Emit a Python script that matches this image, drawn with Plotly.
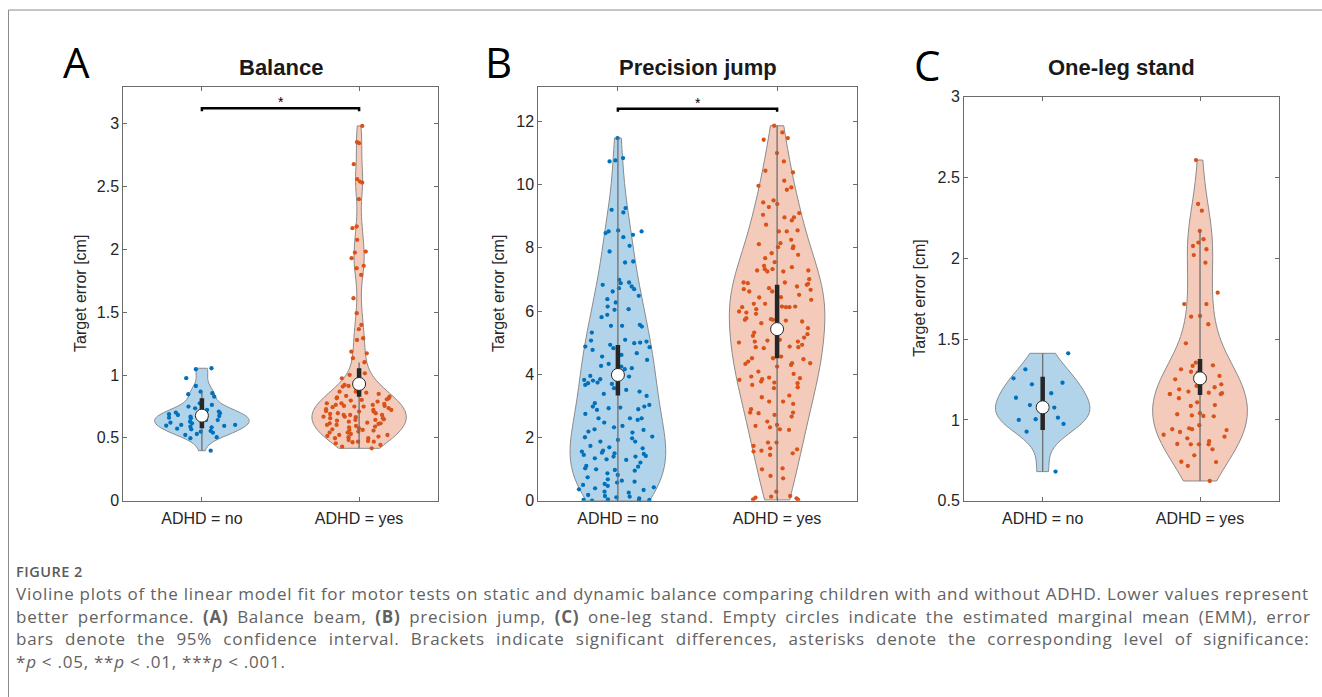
import plotly.graph_objects as go

W, H = 1322, 697

# ---------------- data ----------------
groups = ["ADHD = no", "ADHD = yes"]
panel_titles = ["Balance", "Precision jump", "One-leg stand"]
panel_letters = ["A", "B", "C"]
y_title = "Target error [cm]"

balance_no = [1.054, 1.046, 0.975, 0.913, 0.868, 0.855, 0.847, 0.828, 0.775, 0.762, 0.749, 0.735,
              0.722, 0.709, 0.701, 0.696, 0.688, 0.682, 0.674, 0.674, 0.669, 0.669, 0.661, 0.656,
              0.642, 0.642, 0.637, 0.629, 0.621, 0.616, 0.603, 0.603, 0.597, 0.595, 0.589, 0.584,
              0.573, 0.568, 0.555, 0.549, 0.541, 0.531, 0.523, 0.505, 0.497, 0.398]
balance_yes = [2.983, 2.854, 2.845, 2.678, 2.559, 2.540, 2.532, 2.400, 2.182, 2.169, 2.076, 1.983,
               1.975, 1.930, 1.869, 1.850, 1.797, 1.611, 1.492, 1.399, 1.365, 1.293, 1.279, 1.186,
               1.173, 1.134, 1.102,
               1.014, 1.001, 0.974, 0.921, 0.913, 0.908, 0.895, 0.868, 0.860, 0.868, 0.850, 0.834,
               0.829, 0.823, 0.815, 0.815, 0.807, 0.802, 0.797, 0.789, 0.775, 0.775, 0.770, 0.762,
               0.762, 0.754, 0.754, 0.749, 0.749, 0.744, 0.736, 0.728, 0.722, 0.722, 0.714, 0.709,
               0.709, 0.696, 0.696, 0.690, 0.682, 0.682, 0.682, 0.669, 0.669, 0.664, 0.656, 0.656,
               0.648, 0.643, 0.643, 0.637, 0.629, 0.621, 0.616, 0.616, 0.611, 0.603, 0.603, 0.595,
               0.590, 0.584, 0.576, 0.568, 0.563, 0.563, 0.558, 0.550, 0.542, 0.542, 0.531, 0.523,
               0.523, 0.515, 0.510, 0.505, 0.497, 0.497, 0.483, 0.475, 0.470, 0.470, 0.465, 0.457,
               0.444, 0.430, 0.417]

jump_no = [11.475, 10.842, 10.768, 10.736, 9.258, 9.205, 9.121, 8.551, 8.519, 8.519, 8.467, 8.414,
           8.340, 8.065, 7.886, 7.569, 7.538, 6.989, 6.904, 6.883, 6.831, 6.778, 6.725, 6.693,
           6.619, 6.482, 6.377, 6.271, 6.144, 6.060, 6.039, 5.880, 5.807, 5.564, 5.532, 5.532,
           5.511, 5.321, 5.089, 5.068, 5.036, 5.004, 4.983, 4.931, 4.878, 4.857, 4.825, 4.772,
           4.667, 4.614, 4.561, 4.456, 4.329, 4.266, 4.245, 4.192, 4.160, 3.949, 3.928, 3.843,
           3.822, 3.801, 3.738, 3.717, 3.696, 3.664, 3.559, 3.506, 3.453, 3.379, 3.316, 3.083,
           3.031, 2.978, 2.978, 2.946, 2.925, 2.894, 2.872, 2.746, 2.608, 2.608, 2.608, 2.556,
           2.471, 2.366, 2.323, 2.260, 2.239, 2.186, 2.155, 2.028, 2.007, 1.975, 1.922, 1.870,
           1.870, 1.732, 1.690, 1.658, 1.584, 1.553, 1.521, 1.500, 1.479, 1.447, 1.415, 1.395,
           1.395, 1.342, 1.310, 1.289, 1.205, 1.099, 1.078, 1.025, 0.994, 0.972, 0.951, 0.867,
           0.814, 0.740, 0.677, 0.635, 0.603, 0.572, 0.529, 0.498, 0.466, 0.424, 0.392, 0.360,
           0.339, 0.286, 0.255, 0.181, 0.149, 0.128, 0.107, 0.076, 0.044, 0.023, 0.023, 0.002,
           0.000]
jump_yes = [11.865, 11.654, 11.475, 11.422, 11.000, 10.736, 10.440, 10.388, 10.124, 9.965, 9.913,
            9.839, 9.501, 9.438, 9.385, 9.290, 9.100, 9.047, 8.963, 8.963, 8.868, 8.731, 8.551,
            8.519, 8.519, 8.255, 8.150, 8.118, 8.044, 8.023, 7.992, 7.833, 7.781, 7.675, 7.548,
            7.432, 7.390, 7.327, 7.327, 7.284, 7.284, 7.253, 7.253, 7.010, 6.904, 6.904, 6.883,
            6.862, 6.831, 6.778, 6.725, 6.693, 6.672, 6.619, 6.619, 6.514, 6.440, 6.430, 6.355,
            6.229, 6.229, 6.144, 6.144, 6.123, 6.123, 6.123, 6.060, 5.986, 5.954, 5.912, 5.775,
            5.743, 5.722, 5.722, 5.701, 5.670, 5.617, 5.458, 5.321, 5.268, 5.216, 5.163, 5.089,
            5.068, 5.036, 5.036, 5.004, 4.931, 4.878, 4.857, 4.857, 4.825, 4.561, 4.508, 4.508,
            4.477, 4.403, 4.350, 4.350, 4.329, 4.297, 4.245, 4.086, 4.012, 3.928, 3.896, 3.875,
            3.843, 3.822, 3.770, 3.738, 3.717, 3.664, 3.590, 3.559, 3.326, 3.274, 3.136, 3.136,
            3.062, 2.894, 2.788, 2.788, 2.767, 2.714, 2.661, 2.503, 2.397, 2.366, 2.323, 2.260,
            2.239, 1.838, 1.838, 1.732, 1.658, 1.627, 1.584, 1.553, 1.500, 1.447, 1.025, 0.994,
            0.783, 0.709, 0.286, 0.149, 0.128, 0.097, 0.076, 0.044, 0.023]

oneleg_no = [1.412, 1.313, 1.257, 1.230, 1.220, 1.165, 1.137, 1.092, 1.066, 1.076, 1.004, 1.014,
             1.000, 0.975, 0.927, 0.680]
oneleg_yes = [2.608, 2.336, 2.295, 2.169, 2.118, 2.097, 2.076, 2.056, 2.020, 1.973, 1.787, 1.717,
              1.717, 1.643, 1.639, 1.592, 1.474, 1.354, 1.338, 1.334, 1.313, 1.298, 1.292, 1.272,
              1.251, 1.220, 1.210, 1.202, 1.189, 1.175, 1.168, 1.165, 1.160, 1.160, 1.160, 1.134,
              1.109, 1.092, 1.086, 1.041, 1.035, 1.028, 1.024, 1.022, 0.967, 0.948, 0.942, 0.942,
              0.937, 0.925, 0.908, 0.896, 0.886, 0.868, 0.851, 0.849, 0.849, 0.849, 0.818, 0.781,
              0.741, 0.739, 0.715, 0.622]

# estimated marginal means and 95% CI, whisker lines
balance_emm = [0.677, 0.929]
balance_ci_low = [0.576, 0.828]
balance_ci_high = [0.815, 1.054]
balance_whisk_low = [0.398, 0.417]
balance_whisk_high = [0.868, 1.10]

jump_emm = [3.98, 5.43]
jump_ci_low = [3.33, 4.51]
jump_ci_high = [4.93, 6.83]
jump_whisk_low = [0.0, 0.023]
jump_whisk_high = [11.475, 11.865]

oneleg_emm = [1.078, 1.257]
oneleg_ci_low = [0.937, 1.154]
oneleg_ci_high = [1.267, 1.377]
oneleg_whisk_low = [0.680, 0.622]
oneleg_whisk_high = [1.412, 2.169]

# values above which a violin becomes a thin tail (points there hug the centre)
balance_tail = [None, 1.09]
jump_tail = [9.0, None]
oneleg_tail = [None, 1.9]

# significance brackets
bracket_y = [3.124, 12.40, None]
bracket_label = ["*", "*", ""]

# y axis settings per panel
y_ranges = [[0, 3.29], [0, 13.1], [0.5, 3.0]]
y_tick0 = [0, 0, 0.5]
y_dtick = [0.5, 2, 0.5]

caption_head = "FIGURE 2"
caption_lines = [
    "Violine plots of the linear model fit for motor tests on static and dynamic balance comparing children with and without ADHD. Lower values represent",
    "better performance. <b>(A)</b> Balance beam, <b>(B)</b> precision jump, <b>(C)</b> one-leg stand. Empty circles indicate the estimated marginal mean (EMM), error",
    "bars denote the 95% confidence interval. Brackets indicate significant differences, asterisks denote the corresponding level of significance:",
    "*<i>p</i> < .05, **<i>p</i> < .01, ***<i>p</i> < .001.",
]
caption_word_spacing = [0.0, 3.5, 6.0, 0.0]

# ---------------- styling / layout ----------------
BLUE = "#0072BD"
ORANGE = "#D95319"
BLUE_FILL = "rgba(0,114,189,0.30)"
ORANGE_FILL = "rgba(217,83,25,0.30)"
AXC = "#262626"
FONT = "Liberation Sans, Arial, sans-serif"

# axes boxes in pixel coordinates: x0, x1, ytop, ybottom
boxes = [(123.3, 437.7, 87.3, 500.7), (538.3, 856.7, 86.7, 500.7), (964.0, 1278.7, 96.7, 500.7)]
letter_pos = [(76.7, 61.7), (498.0, 61.7), (926.7, 64.5)]
ytitle_x = [80.0, 498.3, 920.0]


def px(x):
    return x / W


def py(y):
    return 1 - y / H


data_sets = [
    (balance_no, balance_yes, balance_emm, balance_ci_low, balance_ci_high, balance_whisk_low,
     balance_whisk_high, balance_tail),
    (jump_no, jump_yes, jump_emm, jump_ci_low, jump_ci_high, jump_whisk_low, jump_whisk_high, jump_tail),
    (oneleg_no, oneleg_yes, oneleg_emm, oneleg_ci_low, oneleg_ci_high, oneleg_whisk_low,
     oneleg_whisk_high, oneleg_tail),
]

fig = go.Figure()
annotations = []
layout_axes = {}


def point_layer(vals, pos, col, jit, xa, ya):
    return go.Violin(
        y=vals, x0=pos, xaxis=xa, yaxis=ya, width=0.6, scalemode="width", spanmode="hard",
        points="all", pointpos=0, jitter=jit,
        marker=dict(size=4.3, color=col, line=dict(width=0)),
        line=dict(width=0, color="rgba(0,0,0,0)"), fillcolor="rgba(0,0,0,0)",
        box_visible=False, meanline_visible=False, showlegend=False, hoveron="points",
    )


for i, (dno, dyes, emm, cil, cih, wl, wh, tails) in enumerate(data_sets):
    sfx = "" if i == 0 else str(i + 1)
    xa, ya = "x" + sfx, "y" + sfx
    for j, (vals, col, fill) in enumerate([(dno, BLUE, BLUE_FILL), (dyes, ORANGE, ORANGE_FILL)]):
        # violin body (density of all values)
        fig.add_trace(go.Violin(
            y=vals, x0=j + 1, name=groups[j], xaxis=xa, yaxis=ya,
            width=0.6, scalemode="width", spanmode="hard", points=False,
            line=dict(color="#8a8a8a", width=1), fillcolor=fill,
            box_visible=False, meanline_visible=False, showlegend=False, hoverinfo="skip",
        ))
        cut = tails[j]
        if cut is None:
            fig.add_trace(point_layer(vals, j + 1, col, 0.85, xa, ya))
        else:
            fig.add_trace(point_layer([v for v in vals if v < cut], j + 1, col, 0.85, xa, ya))
            fig.add_trace(point_layer([v for v in vals if v >= cut], j + 1, col, 0.22, xa, ya))
    # whisker lines
    for j in range(2):
        fig.add_trace(go.Scatter(x=[j + 1, j + 1], y=[wl[j], wh[j]], mode="lines",
                                 line=dict(color="#6e6e6e", width=1.3), xaxis=xa, yaxis=ya,
                                 showlegend=False, hoverinfo="skip"))
    # CI bars
    for j in range(2):
        fig.add_trace(go.Scatter(x=[j + 1, j + 1], y=[cil[j], cih[j]], mode="lines",
                                 line=dict(color="#262626", width=4.5), xaxis=xa, yaxis=ya,
                                 showlegend=False, hoverinfo="skip"))
    # EMM
    fig.add_trace(go.Scatter(x=[1, 2], y=emm, mode="markers",
                             marker=dict(size=13, color="white", line=dict(color="#262626", width=1)),
                             xaxis=xa, yaxis=ya, showlegend=False))
    # bracket
    if bracket_y[i] is not None:
        x0, x1, yt, yb = boxes[i]
        scale = (y_ranges[i][1] - y_ranges[i][0]) / (yb - yt)
        drop = 3.0 * scale
        by = bracket_y[i]
        fig.add_trace(go.Scatter(x=[1, 1, 2, 2], y=[by - drop, by, by, by - drop], mode="lines",
                                 line=dict(color="black", width=2.5), xaxis=xa, yaxis=ya,
                                 showlegend=False, hoverinfo="skip"))
        annotations.append(dict(x=1.5, y=by, xref=xa, yref=ya, text=bracket_label[i],
                                showarrow=False, yanchor="bottom", yshift=-4,
                                font=dict(family=FONT, size=14, color="black")))

    x0, x1, yt, yb = boxes[i]
    axis_common = dict(showline=True, linecolor="#6b6b6b", linewidth=1, mirror="ticks",
                       ticks="inside", ticklen=4, tickcolor="#6b6b6b", showgrid=False, zeroline=False,
                       automargin=False, tickfont=dict(family=FONT, size=16, color=AXC))
    layout_axes["xaxis" + sfx] = dict(domain=[px(x0), px(x1)], anchor=ya, range=[0.5, 2.5],
                                      tickmode="array", tickvals=[1, 2], ticktext=groups,
                                      ticklabelstandoff=3, **axis_common)
    layout_axes["yaxis" + sfx] = dict(domain=[py(yb), py(yt)], anchor=xa, range=y_ranges[i],
                                      tickmode="linear", tick0=y_tick0[i], dtick=y_dtick[i], **axis_common)

    # panel title
    annotations.append(dict(x=px((x0 + x1) / 2), y=py(68), xref="paper", yref="paper",
                            text="<b>" + panel_titles[i] + "</b>", showarrow=False,
                            xanchor="center", yanchor="middle",
                            font=dict(family=FONT, size=22, color="#1a1a1a")))
    # panel letter
    lx, ly = letter_pos[i]
    annotations.append(dict(x=px(lx), y=py(ly), xref="paper", yref="paper", text=panel_letters[i],
                            showarrow=False, xanchor="center", yanchor="middle",
                            font=dict(family="Open Sans, sans-serif", size=42, color="black")))
    # y title
    annotations.append(dict(x=px(ytitle_x[i]), y=py((yt + yb) / 2), xref="paper", yref="paper",
                            text=y_title, textangle=-90, showarrow=False,
                            xanchor="center", yanchor="middle",
                            font=dict(family=FONT, size=16, color=AXC)))

# caption
CAP_FONT = "Open Sans, Lato, sans-serif"
annotations.append(dict(x=px(14), y=py(571), xref="paper", yref="paper",
                        text='<span style="letter-spacing:0.5px">' + caption_head + '</span>',
                        showarrow=False, xanchor="left", yanchor="middle",
                        font=dict(family=CAP_FONT, size=14.5, color="#5a5a5a", weight=600)))
for k, line in enumerate(caption_lines):
    styled = ('<span style="letter-spacing:0.75px;word-spacing:%.1fpx">' % caption_word_spacing[k]
              + line + '</span>')
    annotations.append(dict(x=px(14), y=py(593.5 + 22.6 * k), xref="paper", yref="paper", text=styled,
                            showarrow=False, xanchor="left", yanchor="middle",
                            font=dict(family=CAP_FONT, size=17, color="#626262")))

shapes = [
    dict(type="line", xref="paper", yref="paper", x0=px(8.5), x1=1, y0=py(10), y1=py(10),
         line=dict(color="#8c8c8c", width=1)),
    dict(type="line", xref="paper", yref="paper", x0=px(8.5), x1=px(8.5), y0=py(10), y1=0,
         line=dict(color="#8c8c8c", width=1)),
]

fig.update_layout(width=W, height=H, autosize=False,
                  margin=dict(l=0, r=0, t=0, b=0, pad=0, autoexpand=False),
                  paper_bgcolor="white", plot_bgcolor="white", violinmode="overlay",
                  annotations=annotations, shapes=shapes, **layout_axes)

fig.write_html("out.html",
               post_script="document.body.style.margin='0';document.body.style.padding='0';"
                           "document.body.style.overflow='hidden';")
